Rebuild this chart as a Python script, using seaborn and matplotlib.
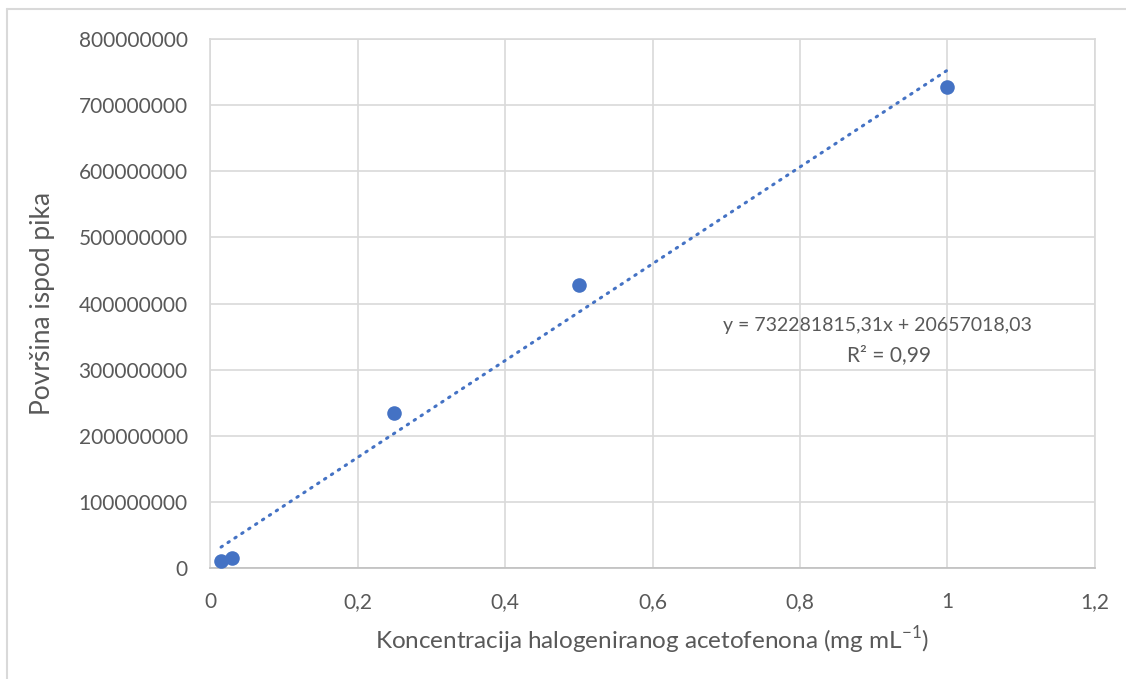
import numpy as np
import pandas as pd
import matplotlib
matplotlib.use("Agg")
import matplotlib.pyplot as plt
import seaborn as sns

# Podaci očitani s grafa
koncentracija = [0.015, 0.03, 0.25, 0.5, 1.0]
povrsina = [10.6e6, 15.6e6, 234e6, 428e6, 727e6]

# Linearni trend (Excel)
nagib = 732281815.31
odsjecak = 20657018.03
jednadzba = "y = 732281815,31x + 20657018,03"
r2_tekst = "R² = 0,99"

x_ticks = [0, 0.2, 0.4, 0.6, 0.8, 1.0, 1.2]
x_tick_labels = ["0", "0,2", "0,4", "0,6", "0,8", "1", "1,2"]
y_ticks = [0, 100e6, 200e6, 300e6, 400e6, 500e6, 600e6, 700e6, 800e6]

df = pd.DataFrame({"x": koncentracija, "y": povrsina})
x_trend = np.array([min(koncentracija), max(koncentracija)])
trend = pd.DataFrame({"x": x_trend, "y": nagib * x_trend + odsjecak})

sns.set_theme(style="whitegrid")
plt.rcParams["font.family"] = ["Lato", "DejaVu Sans"]
plt.rcParams["mathtext.fontset"] = "custom"
plt.rcParams["mathtext.rm"] = "Lato"

siva = "#595959"
plava = "#4472C4"

fig = plt.figure(figsize=(11.26, 6.79), dpi=100)
ax = fig.add_axes([210 / 1126, 1 - 568 / 679, 885 / 1126, 529 / 679])

sns.lineplot(data=trend, x="x", y="y", ax=ax, color=plava, linewidth=2.2,
             linestyle=(0, (0.5, 2.2)), dash_capstyle="round")
sns.scatterplot(data=df, x="x", y="y", ax=ax, color=plava, s=110,
                edgecolor=plava, linewidth=0, zorder=3)

ax.set_xlim(0, 1.2)
ax.set_ylim(0, 800e6)
ax.set_xticks(x_ticks)
ax.set_xticklabels(x_tick_labels)
ax.set_yticks(y_ticks)
ax.set_yticklabels([f"{int(v)}" for v in y_ticks])
ax.grid(True, color="#D9D9D9", linewidth=1.2)
ax.tick_params(axis="both", length=0, labelsize=15, colors=siva)
ax.tick_params(axis="y", pad=16)
ax.tick_params(axis="x", pad=17)
for name, sp in ax.spines.items():
    sp.set_visible(True)
    sp.set_color("#D9D9D9")
    sp.set_linewidth(1.2)
ax.spines["bottom"].set_color("#BFBFBF")

ax.set_xlabel(r"Koncentracija halogeniranog acetofenona (mg mL$^{-1}$)",
              fontsize=17.5, color=siva, labelpad=9)
ax.set_ylabel("Površina ispod pika", fontsize=19, color=siva, labelpad=17)

ax.text(0.754, 0.459, jednadzba, transform=ax.transAxes, ha="center",
        va="center", fontsize=14, color=siva)
ax.text(0.767, 0.403, r2_tekst, transform=ax.transAxes, ha="center",
        va="center", fontsize=15, color=siva)

# okvir grafikona (gore i lijevo)
fig.add_artist(plt.Line2D([7 / 1126, 1], [1 - 9 / 679, 1 - 9 / 679],
                          transform=fig.transFigure, color="#D9D9D9", linewidth=1.5))
fig.add_artist(plt.Line2D([7 / 1126, 7 / 1126], [0, 1 - 9 / 679],
                          transform=fig.transFigure, color="#D9D9D9", linewidth=1.5))

fig.savefig("out.png", dpi=100)
